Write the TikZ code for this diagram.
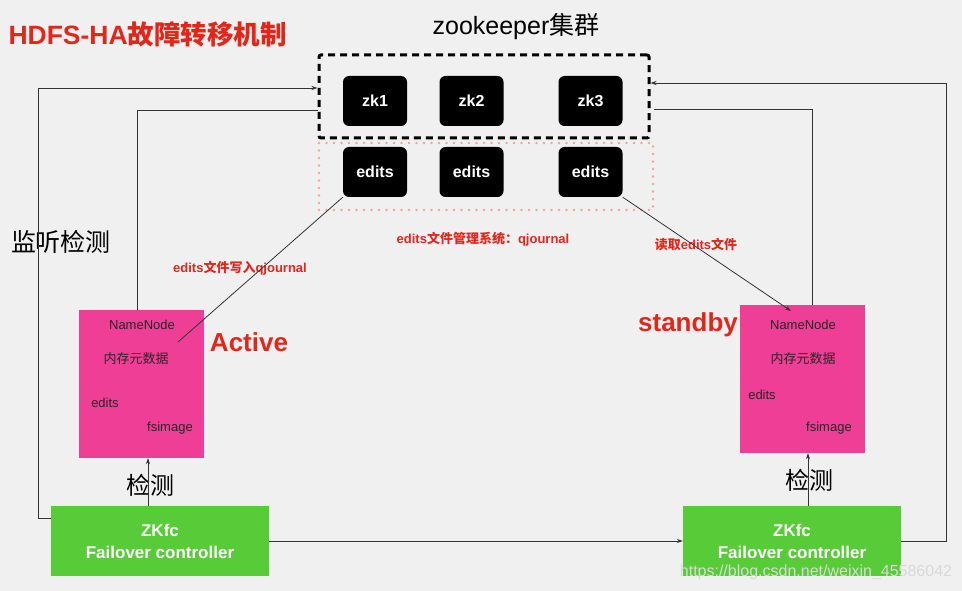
\documentclass[tikz,border=0pt]{standalone}
\usepackage{fontspec}
\setmainfont{Liberation Sans}
\newfontfamily\cjk{Noto Sans CJK SC}
\usetikzlibrary{arrows.meta}
\definecolor{hdred}{HTML}{E3261A}
\definecolor{nnpink}{HTML}{EF3E96}
\definecolor{fcgreen}{HTML}{58CC38}
\definecolor{dotred}{HTML}{F5A29C}
\definecolor{bgray}{HTML}{F0F0F0}
\newcommand{\fs}[2][0]{\fontsize{#2}{\dimexpr#2pt+#1pt\relax}\selectfont}
\tikzset{
  >={Stealth[length=6pt,width=4pt]},
  zkbox/.style={fill=black, rounded corners=6pt, minimum width=64pt, minimum height=50pt,
    text=white, font=\bfseries\fs{16}},
  nnbox/.style={fill=nnpink, minimum width=125pt, minimum height=148pt},
  nntext/.style={text=black!85, font=\fs{13}},
  fcbox/.style={fill=fcgreen, minimum width=218pt, minimum height=70pt, align=center,
    text=white, font=\bfseries\fs[5]{17}},
  redlbl/.style={text=hdred, font=\bfseries\fs{13}},
  statelbl/.style={text=hdred, font=\bfseries\fs{26}},
  conn/.style={draw=black!80, line width=0.8pt}
}
\begin{document}
\begin{tikzpicture}[x=1pt,y=-1pt]
  \fill[bgray] (0,0) rectangle (962,591);
  \useasboundingbox (0,0) rectangle (962,591);

  \node[anchor=west, text=hdred, font=\bfseries\fs{26.5}] (title) at (5,34) {HDFS-HA{\cjk 故障转移机制}};
  \node[font=\fs{25}] (zkname) at (516,27) {zookeeper{\cjk 集群}};

  % zookeeper and journal groups
  \node[draw=dotred, line width=2.6pt, line cap=round, dash pattern=on 0pt off 7.5pt,
    minimum width=334pt, minimum height=67pt] (ed) at (486,176.5) {};
  \node[draw=black, line width=3pt, dash pattern=on 7pt off 5pt, rounded corners=2pt,
    minimum width=330pt, minimum height=83pt] (zk) at (484,96.5) {};

  \foreach \n/\x in {1/375, 2/471.5, 3/590.5} {
    \node[zkbox] (zk\n) at (\x,101) {zk\n};
    \node[zkbox] (ed\n) at (\x,172) {edits};
  }
  \node[redlbl] (edsys) at (483,239) {edits{\cjk 文件管理系统：}qjournal};

  % namenodes
  \node[nnbox] (nnA) at (141,384) {};
  \node[nntext] (nnAname) at (142,325) {NameNode};
  \node[nntext] (nnAmem) at (136,359) {\cjk 内存元数据};
  \node[nntext] (nnAed) at (105,403) {edits};
  \node[nntext] (nnAfs) at (170,428) {fsimage};
  \node[statelbl] (act) at (249,342) {Active};

  \node[nnbox] (nnS) at (802.5,379) {};
  \node[nntext] (nnSname) at (803,325) {NameNode};
  \node[nntext] (nnSmem) at (803,359) {\cjk 内存元数据};
  \node[nntext] (nnSed) at (762,395) {edits};
  \node[nntext] (nnSfs) at (829,428) {fsimage};
  \node[statelbl] (sby) at (688,325) {standby};

  % failover controllers
  \node[fcbox] (fcA) at (160,541) {ZKfc\\Failover controller};
  \node[fcbox] (fcS) at (792,541) {ZKfc\\Failover controller};

  \node[font=\cjk\fs{24}] (chkA) at (150,485) {检测};
  \node[font=\cjk\fs{24}] (chkS) at (809,480) {检测};
  \node[font=\cjk\fs{25}] (mon) at (61,242) {监听检测};

  \coordinate (wrA) at (178,342);
  \coordinate (rdS) at (791,311);
  \node[redlbl] (wrlbl) at (240,268) {edits{\cjk 文件写入}qjournal};
  \node[redlbl] (rdlbl) at (696,245) {{\cjk 读取}edits{\cjk 文件}};

  \draw[conn, ->] (fcA.north west |- 0,518) -- (38,518) -- (38,88) -- (zk.west |- 0,88);
  \draw[conn] (nnA.north -| 137,0) -- (137,110) -- (zk.west |- 0,110);
  \draw[conn, ->] (fcS.east |- 0,541) -- (946,541) -- (946,83) -- (zk.east |- 0,83);
  \draw[conn] (nnS.north -| 812,0) -- (812,109) -- (ed.east |- 0,109);
  \draw[conn, ->] (fcA.east) -- (fcS.west);
  \draw[conn] (ed1.south west) -- (wrA);
  \draw[conn, ->] (ed3.south east) -- (rdS);
  \draw[conn, ->] (fcA.north -| 148,0) -- (nnA.south -| 148,0);
  \draw[conn, ->] (fcS.north -| 808,0) -- (nnS.south -| 808,0);

  \node[text=white!70!gray, font=\fs{16}] (wm) at (816,572) {https://blog.csdn.net/weixin\_45586042};
\end{tikzpicture}
\end{document}
